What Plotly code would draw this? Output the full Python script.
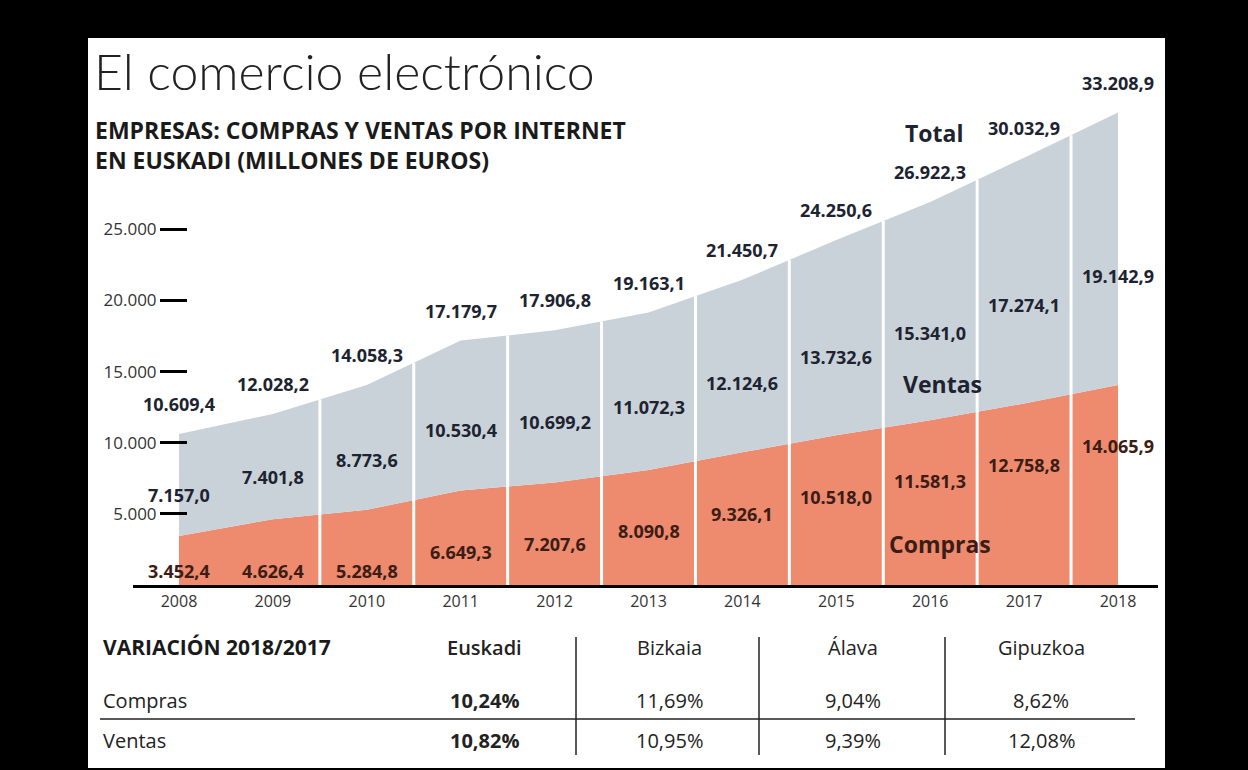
import numpy as np
import plotly.graph_objects as go

# ---------------- data ----------------
years = [2008, 2009, 2010, 2011, 2012, 2013, 2014, 2015, 2016, 2017, 2018]
compras = [3452.4, 4626.4, 5284.8, 6649.3, 7207.6, 8090.8, 9326.1, 10518.0, 11581.3, 12758.8, 14065.9]
ventas = [7157.0, 7401.8, 8773.6, 10530.4, 10699.2, 11072.3, 12124.6, 13732.6, 15341.0, 17274.1, 19142.9]
total = [10609.4, 12028.2, 14058.3, 17179.7, 17906.8, 19163.1, 21450.7, 24250.6, 26922.3, 30032.9, 33208.9]
ytick_vals = [5000, 10000, 15000, 20000, 25000]
ytick_text = ["5.000", "10.000", "15.000", "20.000", "25.000"]

table_title = "VARIACIÓN 2018/2017"
regions = ["Euskadi", "Bizkaia", "Álava", "Gipuzkoa"]
var_compras = ["10,24%", "11,69%", "9,04%", "8,62%"]
var_ventas = ["10,82%", "10,95%", "9,39%", "12,08%"]

# ---------------- layout helpers ----------------
W, H = 1248, 770
L, R, T, B = 133, 1158, 40, 585
YEAR_PX = 93.9
X0_PX = 179  # pixel of first year


def px(x):
    return (x - L) / (R - L)


def py(y):
    return (B - y) / (B - T)


def fmt(v):
    s = f"{v:,.1f}"
    return s.replace(",", "X").replace(".", ",").replace("X", ".")


ORANGE = "#EE8A6D"
GREY = "#C9D1D9"
NAVY = "#1d2330"
BROWN = "#3b1d15"
FONT = "Open Sans"

x_range = [years[0] - (X0_PX - L) / YEAR_PX, years[-1] + (R - (X0_PX + 10 * YEAR_PX)) / YEAR_PX]
y_top = (B - 1 - T) * 5000 / 71

fig = go.Figure()

fig.add_trace(go.Scatter(x=years, y=compras, mode="lines", line=dict(width=0, color=ORANGE),
                         fill="tozeroy", fillcolor=ORANGE, hoverinfo="skip", showlegend=False))
fig.add_trace(go.Scatter(x=years, y=total, mode="lines", line=dict(width=0, color=GREY),
                         fill="tonexty", fillcolor=GREY, hoverinfo="skip", showlegend=False))

# white separators between years
sep_x, sep_y = [], []
for i in range(1, len(years) - 1):
    xm = (years[i] + years[i + 1]) / 2
    top = float(np.interp(xm, years, total))
    sep_x += [xm, xm, None]
    sep_y += [0, top, None]
fig.add_trace(go.Scatter(x=sep_x, y=sep_y, mode="lines", line=dict(color="white", width=3),
                         hoverinfo="skip", showlegend=False))


def note(x, y, text, size, color, weight=400, xanchor="center", ref="paper"):
    return dict(x=x, y=y, xref=ref if ref == "paper" else "x", yref=ref if ref == "paper" else "y",
                text=text, showarrow=False, xanchor=xanchor, yanchor="middle", align="left",
                font=dict(family=FONT, size=size, color=color, weight=weight))


annotations = []
# value labels
for i, yr in enumerate(years):
    annotations.append(note(yr, total[i] + 2100, fmt(total[i]), 18, NAVY, 700, ref="data"))
    annotations.append(note(yr, compras[i] + 0.4 * ventas[i], fmt(ventas[i]), 18, NAVY, 700, ref="data"))
    annotations.append(note(yr, max(compras[i] - 4300, 1000), fmt(compras[i]), 18, BROWN, 700, ref="data"))

# series names
annotations += [
    note(px(934), py(133), "Total", 23, NAVY, 700),
    note(px(942), py(384), "Ventas", 23, NAVY, 700),
    note(px(940), py(544), "Compras", 23, BROWN, 700),
]

# titles
title = note(px(92), py(71), "El comercio electrónico", 50, "#222222", 300, xanchor="left")
title["font"]["family"] = "Lato"
annotations += [
    title,
    note(px(93), py(145), "EMPRESAS: COMPRAS Y VENTAS POR INTERNET<br>EN EUSKADI (MILLONES DE EUROS)",
         23, "#1a1a1a", 700, xanchor="left"),
]

# table
col_x = [484, 669, 853, 1041]
row_y = {"head": 647, "c": 700, "v": 740}
annotations += [
    note(px(101), py(row_y["head"]), table_title, 21, "#1a1a1a", 700, xanchor="left"),
    note(px(101), py(row_y["c"]), "Compras", 20, "#222222", 400, xanchor="left"),
    note(px(101), py(row_y["v"]), "Ventas", 20, "#222222", 400, xanchor="left"),
]
for j, reg in enumerate(regions):
    w = 600 if j == 0 else 400
    wv = 700 if j == 0 else 400
    annotations.append(note(px(col_x[j]), py(row_y["head"]), reg, 20, "#222222", w))
    annotations.append(note(px(col_x[j]), py(row_y["c"]), var_compras[j], 20, "#222222", wv))
    annotations.append(note(px(col_x[j]), py(row_y["v"]), var_ventas[j], 20, "#222222", wv))

shapes = [
    dict(type="rect", xref="paper", yref="paper", x0=px(88), x1=px(1165), y0=py(768), y1=py(38),
         fillcolor="white", line=dict(width=0), layer="below"),
    dict(type="line", xref="paper", yref="paper", x0=px(100), x1=px(1135), y0=py(719), y1=py(719),
         line=dict(color="#222222", width=1.5)),
]
for vx in [576, 759, 945]:
    shapes.append(dict(type="line", xref="paper", yref="paper", x0=px(vx), x1=px(vx), y0=py(637), y1=py(755),
                       line=dict(color="#222222", width=1.5)))

fig.update_layout(
    width=W, height=H,
    margin=dict(l=L, r=W - R, t=T, b=H - B, pad=0),
    paper_bgcolor="black", plot_bgcolor="white",
    showlegend=False,
    annotations=annotations, shapes=shapes,
    xaxis=dict(range=x_range, tickvals=years, ticktext=[str(y) for y in years], ticks="",
               showgrid=False, zeroline=False, showline=True, linecolor="black", linewidth=3,
               tickfont=dict(family=FONT, size=16, color="#333333"), fixedrange=True),
    yaxis=dict(range=[0, y_top], tickvals=ytick_vals, ticktext=ytick_text, anchor="free",
               position=px(187), ticks="outside", ticklen=27, tickwidth=2.5, tickcolor="black",
               showgrid=False, zeroline=False, showline=False,
               tickfont=dict(family=FONT, size=17, color="#333333"), fixedrange=True),
)

fig.write_html(
    "out.html",
    config={"displayModeBar": False},
    post_script="document.body.style.margin='0';document.body.style.backgroundColor='black';",
)
